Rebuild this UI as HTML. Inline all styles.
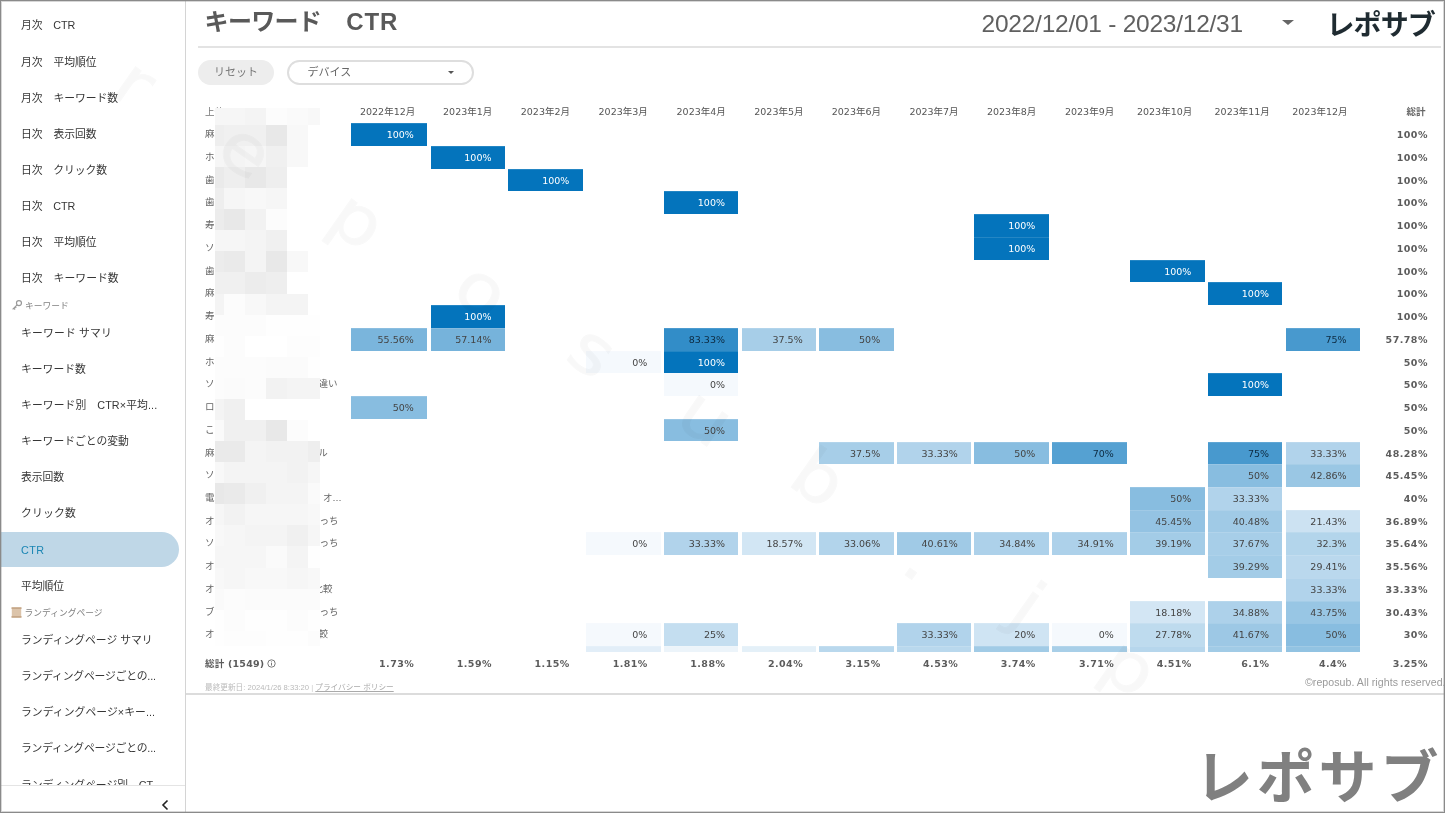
<!DOCTYPE html>
<html lang="ja"><head><meta charset="utf-8"><title>キーワード CTR</title>
<style>
*{box-sizing:border-box;margin:0;padding:0}
html,body{width:1445px;height:813px;overflow:hidden;background:#fff}
body{position:relative;font-family:"Liberation Sans","Noto Sans CJK JP",sans-serif;color:#333}
.frame{position:absolute;left:0;top:0;width:1445px;height:813px;border:1px solid #8a8a8a;box-shadow:inset 0 0 0 1px rgba(140,140,140,.35);z-index:50;pointer-events:none}
.sb{position:absolute;left:0;top:0;width:186px;height:813px;border-right:1px solid #d4d4d4;overflow:hidden}
.si{position:absolute;left:0;width:179px;height:36px;line-height:36px;padding-left:21px;font-size:10.8px;color:#363636;white-space:nowrap}
.si.act{color:#1b86b4}
.pill{position:absolute;left:0;top:531.6px;width:179px;height:35.8px;background:#bfd7e7;border-radius:0 18px 18px 0}
.sh{position:absolute;left:10.5px;font-size:8.75px;color:#808080;height:14px;line-height:14px;white-space:nowrap}
.sbb{position:absolute;left:0;top:784.8px;width:185px;height:29px;background:#fff;border-top:1px solid #e4e4e4}
.chev{position:absolute;left:160.8px;top:799.2px}
.main{position:absolute;left:186px;top:0;width:1259px;height:813px}
.title{position:absolute;left:204.6px;top:4px;font-size:24px;font-weight:bold;color:#595959;line-height:36px;white-space:nowrap}
.date{position:absolute;left:981.6px;top:6.2px;font-size:24.5px;color:#606060;line-height:36px;white-space:nowrap;font-family:"Liberation Sans",sans-serif;letter-spacing:-.25px}
.logo{position:absolute;left:1326.5px;top:6px;font-size:28px;font-weight:bold;color:#1f2b31;line-height:40px;white-space:nowrap;letter-spacing:-.9px}
.hr1{position:absolute;left:198px;top:46px;width:1243px;height:2px;background:#e3e3e3}
.hr2{position:absolute;left:186px;top:692.5px;width:1259px;height:2px;background:#dcdcdc}
.btn{position:absolute;left:198.4px;top:59.6px;width:75.2px;height:25.2px;border-radius:13px;background:#ededed;color:#777;font-size:11px;line-height:25px;text-align:center}
.dd{position:absolute;left:286.6px;top:59.6px;width:187.4px;height:25.2px;border-radius:13px;border:2px solid #dedede;color:#666;font-size:11px;line-height:21px;padding-left:19px}
.car{position:absolute;left:448px;top:71px;width:0;height:0;border-left:3.5px solid transparent;border-right:3.5px solid transparent;border-top:3.5px solid #555}
.car2{position:absolute;left:1281.6px;top:19.7px;width:0;height:0;border-left:6px solid transparent;border-right:6px solid transparent;border-top:5.6px solid #666}
.tb{font-family:"DejaVu Sans","Noto Sans CJK JP",sans-serif;font-size:9.5px;color:#555}
.mh{position:absolute;top:103.6px;width:80px;height:16px;line-height:16px;text-align:center;white-space:nowrap;color:#555}
.th0{position:absolute;left:205px;top:103.6px;height:16px;line-height:16px;color:#777}
.tht{position:absolute;left:1360px;top:103.6px;width:65.6px;text-align:right;height:16px;line-height:16px;font-weight:bold;color:#666}
.c{position:absolute;height:22.74px;line-height:24.94px;text-align:right;padding-right:13.4px;white-space:nowrap;box-shadow:inset 0 1px 0 rgba(255,255,255,.13)}
.rl{position:absolute;left:205px;height:22.74px;line-height:22.74px;color:#666;white-space:nowrap}
.rr{position:absolute;left:318px;height:22.74px;line-height:22.74px;color:#666;white-space:nowrap}
.tt{position:absolute;left:1360px;width:67.9px;letter-spacing:.45px;text-align:right;height:22.74px;line-height:24.54px;font-weight:bold;color:#5c5c5c;white-space:nowrap}
.tv{position:absolute;top:652.8px;height:22px;line-height:22px;text-align:right;padding-right:12.95px;letter-spacing:.45px;font-weight:bold;color:#5c5c5c}
.tl{position:absolute;left:205px;top:652.6px;height:22px;line-height:22px;font-weight:bold;color:#5c5c5c;white-space:nowrap;letter-spacing:.22px}
.ft{position:absolute;left:205px;top:682px;font-size:7.65px;color:#bababa;line-height:12px;white-space:nowrap}
.ft u{color:#aaa}
.cp{position:absolute;right:-.6px;top:675.3px;font-size:10.6px;letter-spacing:.05px;color:#9a9a9a;line-height:14px;white-space:nowrap}
.big{position:absolute;left:1194.8px;top:733.2px;font-size:58px;font-weight:bold;color:#808080;line-height:90px;white-space:nowrap;letter-spacing:3.9px}
.wm{position:absolute;width:80px;height:100px;line-height:84px;text-align:center;font-size:68px;color:#000;-webkit-text-stroke:1px #000;opacity:.023;transform:rotate(35deg) scaleX(1.13);font-family:"DejaVu Sans","Liberation Sans",sans-serif;z-index:40;pointer-events:none}
.mz i{position:absolute;display:block}
</style></head><body>
<div class="sb">
<div class="si" style="top:7.4px;letter-spacing:-0.06px">月次　CTR</div>
<div class="si" style="top:43.5px">月次　平均順位</div>
<div class="si" style="top:79.7px">月次　キーワード数</div>
<div class="si" style="top:115.8px">日次　表示回数</div>
<div class="si" style="top:152.0px;letter-spacing:-0.06px">日次　クリック数</div>
<div class="si" style="top:188.2px;letter-spacing:-0.06px">日次　CTR</div>
<div class="si" style="top:224.3px">日次　平均順位</div>
<div class="si" style="top:260.4px;letter-spacing:0.06px">日次　キーワード数</div>
<div class="si" style="top:315.0px;letter-spacing:0.18px">キーワード サマリ</div>
<div class="si" style="top:351.1px">キーワード数</div>
<div class="si" style="top:387.2px;letter-spacing:0.10px">キーワード別　CTR×平均...</div>
<div class="si" style="top:423.2px">キーワードごとの変動</div>
<div class="si" style="top:459.3px;letter-spacing:-0.07px">表示回数</div>
<div class="si" style="top:495.4px;letter-spacing:0.18px">クリック数</div>
<div class="pill"></div>
<div class="si act" style="top:531.5px;letter-spacing:0.40px">CTR</div>
<div class="si" style="top:567.6px;letter-spacing:-0.07px">平均順位</div>
<div class="si" style="top:621.9px">ランディングページ サマリ</div>
<div class="si" style="top:658.2px;letter-spacing:-0.18px">ランディングページごとの...</div>
<div class="si" style="top:694.3px;letter-spacing:0.07px">ランディングページ×キー...</div>
<div class="si" style="top:730.4px;letter-spacing:-0.18px">ランディングページごとの...</div>
<div class="si" style="top:766.5px">ランディングページ別　CT...</div>
<div class="sh" style="top:298.6px"><svg width="12" height="12" viewBox="0 0 11 11" style="vertical-align:-2.5px;margin-right:2.5px"><circle cx="7.3" cy="3.7" r="2.3" fill="none" stroke="#999" stroke-width="1.1"/><path d="M5.6 5.4 L1.5 9.5 M2.6 8.4 l1.2 1.2 M3.8 7.2 l1 1" stroke="#999" stroke-width="1.1" fill="none"/></svg>キーワード</div>
<div class="sh" style="top:606px"><svg width="11" height="11" viewBox="0 0 11 11" style="vertical-align:-2px;margin-right:3px"><rect x="0.8" y="0.5" width="9.4" height="10" fill="#dcc4aa"/><rect x="0.5" y="0.3" width="10" height="1.6" fill="#c4a585"/><rect x="0.5" y="9.1" width="10" height="1.6" fill="#c4a585"/></svg>ランディングページ</div>
<div class="sbb"></div>
<svg class="chev" width="8" height="12" viewBox="0 0 8 12"><path d="M6.5 1.5 L2 6 L6.5 10.5" fill="none" stroke="#222" stroke-width="1.6"/></svg>
</div>
<div class="title"><span style="letter-spacing:-.7px">キーワード</span>　<span style="letter-spacing:.9px;margin-left:1.2px">CTR</span></div>
<div class="date">2022/12/01 - 2023/12/31</div>
<div class="car2"></div>
<div class="logo">レポサブ</div>
<div class="hr1"></div>
<div class="btn">リセット</div>
<div class="dd">デバイス</div>
<div class="car"></div>
<div class="tb">
<div class="th0">上位</div>
<div class="mh" style="left:347.6px">2022年12月</div><div class="mh" style="left:427.7px">2023年1月</div><div class="mh" style="left:505.4px">2023年2月</div><div class="mh" style="left:583.2px">2023年3月</div><div class="mh" style="left:661.2px">2023年4月</div><div class="mh" style="left:738.9px">2023年5月</div><div class="mh" style="left:816.4px">2023年6月</div><div class="mh" style="left:894.0px">2023年7月</div><div class="mh" style="left:971.6px">2023年8月</div><div class="mh" style="left:1049.6px">2023年9月</div><div class="mh" style="left:1124.6px">2023年10月</div><div class="mh" style="left:1202.2px">2023年11月</div><div class="mh" style="left:1279.9px">2023年12月</div>
<div class="tht">総計</div>
<div class="rl" style="top:123.1px">麻</div>
<div class="c" style="left:351.2px;width:76.0px;top:123.1px;background:#0474bc;color:#fff">100%</div>
<div class="tt" style="top:123.1px">100%</div>
<div class="rl" style="top:145.8px">ホ</div>
<div class="c" style="left:430.5px;width:74.4px;top:145.8px;background:#0474bc;color:#fff">100%</div>
<div class="tt" style="top:145.8px">100%</div>
<div class="rl" style="top:168.6px">歯</div>
<div class="c" style="left:508.1px;width:74.6px;top:168.6px;background:#0474bc;color:#fff">100%</div>
<div class="tt" style="top:168.6px">100%</div>
<div class="rl" style="top:191.3px">歯</div>
<div class="c" style="left:664.0px;width:74.4px;top:191.3px;background:#0474bc;color:#fff">100%</div>
<div class="tt" style="top:191.3px">100%</div>
<div class="rl" style="top:214.1px">寿</div>
<div class="c" style="left:974.4px;width:74.4px;top:214.1px;background:#0474bc;color:#fff">100%</div>
<div class="tt" style="top:214.1px">100%</div>
<div class="rl" style="top:236.8px">ソ</div>
<div class="c" style="left:974.4px;width:74.4px;top:236.8px;background:#0474bc;color:#fff">100%</div>
<div class="tt" style="top:236.8px">100%</div>
<div class="rl" style="top:259.5px">歯</div>
<div class="c" style="left:1130.4px;width:74.4px;top:259.5px;background:#0474bc;color:#fff">100%</div>
<div class="tt" style="top:259.5px">100%</div>
<div class="rl" style="top:282.3px">麻</div>
<div class="c" style="left:1208.1px;width:74.3px;top:282.3px;background:#0474bc;color:#fff">100%</div>
<div class="tt" style="top:282.3px">100%</div>
<div class="rl" style="top:305.0px">寿</div>
<div class="c" style="left:430.5px;width:74.4px;top:305.0px;background:#0474bc;color:#fff">100%</div>
<div class="tt" style="top:305.0px">100%</div>
<div class="rl" style="top:327.8px">麻</div>
<div class="c" style="left:351.2px;width:76.0px;top:327.8px;background:#7ab5dc;color:#444">55.56%</div>
<div class="c" style="left:430.5px;width:74.4px;top:327.8px;background:#76b3db;color:#444">57.14%</div>
<div class="c" style="left:664.0px;width:74.4px;top:327.8px;background:#328dc8;color:#0d2a40">83.33%</div>
<div class="c" style="left:741.7px;width:74.4px;top:327.8px;background:#a7cee8;color:#444">37.5%</div>
<div class="c" style="left:819.2px;width:74.4px;top:327.8px;background:#88bde0;color:#444">50%</div>
<div class="c" style="left:1285.8px;width:74.2px;top:327.8px;background:#4899ce;color:#0d2a40">75%</div>
<div class="tt" style="top:327.8px">57.78%</div>
<div class="rl" style="top:350.5px">ホ</div>
<div class="c" style="left:585.6px;width:75.2px;top:350.5px;background:#f5f9fd;color:#444">0%</div>
<div class="c" style="left:664.0px;width:74.4px;top:350.5px;background:#0474bc;color:#fff">100%</div>
<div class="tt" style="top:350.5px">50%</div>
<div class="rl" style="top:373.2px">ソ</div>
<div class="rr" style="top:373.2px;left:318.4px">違い</div>
<div class="c" style="left:664.0px;width:74.4px;top:373.2px;background:#f5f9fd;color:#444">0%</div>
<div class="c" style="left:1208.1px;width:74.3px;top:373.2px;background:#0474bc;color:#fff">100%</div>
<div class="tt" style="top:373.2px">50%</div>
<div class="rl" style="top:396.0px">ロ</div>
<div class="c" style="left:351.2px;width:76.0px;top:396.0px;background:#88bde0;color:#444">50%</div>
<div class="tt" style="top:396.0px">50%</div>
<div class="rl" style="top:418.7px">こ</div>
<div class="c" style="left:664.0px;width:74.4px;top:418.7px;background:#88bde0;color:#444">50%</div>
<div class="tt" style="top:418.7px">50%</div>
<div class="rl" style="top:441.5px">麻</div>
<div class="rr" style="top:441.5px;left:318.2px">ル</div>
<div class="c" style="left:819.2px;width:74.4px;top:441.5px;background:#a7cee8;color:#444">37.5%</div>
<div class="c" style="left:896.8px;width:74.4px;top:441.5px;background:#b1d3eb;color:#444">33.33%</div>
<div class="c" style="left:974.4px;width:74.4px;top:441.5px;background:#88bde0;color:#444">50%</div>
<div class="c" style="left:1052.0px;width:75.2px;top:441.5px;background:#55a1d2;color:#0d2a40">70%</div>
<div class="c" style="left:1208.1px;width:74.3px;top:441.5px;background:#4899ce;color:#0d2a40">75%</div>
<div class="c" style="left:1285.8px;width:74.2px;top:441.5px;background:#b1d3eb;color:#444">33.33%</div>
<div class="tt" style="top:441.5px">48.28%</div>
<div class="rl" style="top:464.2px">ソ</div>
<div class="c" style="left:1208.1px;width:74.3px;top:464.2px;background:#88bde0;color:#444">50%</div>
<div class="c" style="left:1285.8px;width:74.2px;top:464.2px;background:#9ac7e4;color:#444">42.86%</div>
<div class="tt" style="top:464.2px">45.45%</div>
<div class="rl" style="top:486.9px">電</div>
<div class="rr" style="top:486.9px;left:323px">オ...</div>
<div class="c" style="left:1130.4px;width:74.4px;top:486.9px;background:#88bde0;color:#444">50%</div>
<div class="c" style="left:1208.1px;width:74.3px;top:486.9px;background:#b1d3eb;color:#444">33.33%</div>
<div class="tt" style="top:486.9px">40%</div>
<div class="rl" style="top:509.7px">オ</div>
<div class="rr" style="top:509.7px;left:319.4px">っち</div>
<div class="c" style="left:1130.4px;width:74.4px;top:509.7px;background:#94c3e3;color:#444">45.45%</div>
<div class="c" style="left:1208.1px;width:74.3px;top:509.7px;background:#a0cae6;color:#444">40.48%</div>
<div class="c" style="left:1285.8px;width:74.2px;top:509.7px;background:#cce2f2;color:#444">21.43%</div>
<div class="tt" style="top:509.7px">36.89%</div>
<div class="rl" style="top:532.4px">ソ</div>
<div class="rr" style="top:532.4px;left:319.4px">っち</div>
<div class="c" style="left:585.6px;width:75.2px;top:532.4px;background:#f5f9fd;color:#444">0%</div>
<div class="c" style="left:664.0px;width:74.4px;top:532.4px;background:#b1d3eb;color:#444">33.33%</div>
<div class="c" style="left:741.7px;width:74.4px;top:532.4px;background:#d2e6f4;color:#444">18.57%</div>
<div class="c" style="left:819.2px;width:74.4px;top:532.4px;background:#b2d4eb;color:#444">33.06%</div>
<div class="c" style="left:896.8px;width:74.4px;top:532.4px;background:#a0cae6;color:#444">40.61%</div>
<div class="c" style="left:974.4px;width:74.4px;top:532.4px;background:#add1ea;color:#444">34.84%</div>
<div class="c" style="left:1052.0px;width:75.2px;top:532.4px;background:#add1ea;color:#444">34.91%</div>
<div class="c" style="left:1130.4px;width:74.4px;top:532.4px;background:#a3cce7;color:#444">39.19%</div>
<div class="c" style="left:1208.1px;width:74.3px;top:532.4px;background:#a7cee8;color:#444">37.67%</div>
<div class="c" style="left:1285.8px;width:74.2px;top:532.4px;background:#b3d5eb;color:#444">32.3%</div>
<div class="tt" style="top:532.4px">35.64%</div>
<div class="rl" style="top:555.2px">オ</div>
<div class="c" style="left:1208.1px;width:74.3px;top:555.2px;background:#a3cce7;color:#444">39.29%</div>
<div class="c" style="left:1285.8px;width:74.2px;top:555.2px;background:#bad8ed;color:#444">29.41%</div>
<div class="tt" style="top:555.2px">35.56%</div>
<div class="rl" style="top:577.9px">オ</div>
<div class="rr" style="top:577.9px;left:313.6px">比較</div>
<div class="c" style="left:1285.8px;width:74.2px;top:577.9px;background:#b1d3eb;color:#444">33.33%</div>
<div class="tt" style="top:577.9px">33.33%</div>
<div class="rl" style="top:600.6px">ブ</div>
<div class="rr" style="top:600.6px;left:319.4px">っち</div>
<div class="c" style="left:1130.4px;width:74.4px;top:600.6px;background:#d3e6f4;color:#444">18.18%</div>
<div class="c" style="left:1208.1px;width:74.3px;top:600.6px;background:#add1ea;color:#444">34.88%</div>
<div class="c" style="left:1285.8px;width:74.2px;top:600.6px;background:#98c6e4;color:#444">43.75%</div>
<div class="tt" style="top:600.6px">30.43%</div>
<div class="rl" style="top:623.4px">オ</div>
<div class="rr" style="top:623.4px;left:318.6px">較</div>
<div class="c" style="left:585.6px;width:75.2px;top:623.4px;background:#f5f9fd;color:#444">0%</div>
<div class="c" style="left:664.0px;width:74.4px;top:623.4px;background:#c4def0;color:#444">25%</div>
<div class="c" style="left:896.8px;width:74.4px;top:623.4px;background:#b1d3eb;color:#444">33.33%</div>
<div class="c" style="left:974.4px;width:74.4px;top:623.4px;background:#cfe4f3;color:#444">20%</div>
<div class="c" style="left:1052.0px;width:75.2px;top:623.4px;background:#f5f9fd;color:#444">0%</div>
<div class="c" style="left:1130.4px;width:74.4px;top:623.4px;background:#bedbee;color:#444">27.78%</div>
<div class="c" style="left:1208.1px;width:74.3px;top:623.4px;background:#9dc8e5;color:#444">41.67%</div>
<div class="c" style="left:1285.8px;width:74.2px;top:623.4px;background:#88bde0;color:#444">50%</div>
<div class="tt" style="top:623.4px">30%</div>
<div class="c" style="left:585.6px;width:75.2px;top:646.1px;height:5.7px;background:#e2eef8"></div>
<div class="c" style="left:664.0px;width:74.4px;top:646.1px;height:5.7px;background:#ecf4fa"></div>
<div class="c" style="left:741.7px;width:74.4px;top:646.1px;height:5.7px;background:#e4f0f8"></div>
<div class="c" style="left:819.2px;width:74.4px;top:646.1px;height:5.7px;background:#b9d8ed"></div>
<div class="c" style="left:896.8px;width:74.4px;top:646.1px;height:5.7px;background:#b9d8ed"></div>
<div class="c" style="left:974.4px;width:74.4px;top:646.1px;height:5.7px;background:#a1cbe6"></div>
<div class="c" style="left:1052.0px;width:75.2px;top:646.1px;height:5.7px;background:#a8cfe8"></div>
<div class="c" style="left:1130.4px;width:74.4px;top:646.1px;height:5.7px;background:#b6d6ec"></div>
<div class="c" style="left:1208.1px;width:74.3px;top:646.1px;height:5.7px;background:#a1cbe6"></div>
<div class="c" style="left:1285.8px;width:74.2px;top:646.1px;height:5.7px;background:#92c3e2"></div>
<div class="tl">総計 (1549)<svg width="9" height="9" viewBox="0 0 9 9" style="vertical-align:-1.2px;margin-left:2.6px"><circle cx="4.5" cy="4.5" r="3.7" fill="none" stroke="#6a6a6a" stroke-width=".9"/><path d="M4.5 3.9V6.6M4.5 2.4v.9" stroke="#6a6a6a" stroke-width=".9" fill="none"/></svg></div>
<div class="tv" style="left:351.2px;width:76.0px">1.73%</div><div class="tv" style="left:430.5px;width:74.4px">1.59%</div><div class="tv" style="left:508.1px;width:74.6px">1.15%</div><div class="tv" style="left:585.6px;width:75.2px">1.81%</div><div class="tv" style="left:664.0px;width:74.4px">1.88%</div><div class="tv" style="left:741.7px;width:74.4px">2.04%</div><div class="tv" style="left:819.2px;width:74.4px">3.15%</div><div class="tv" style="left:896.8px;width:74.4px">4.53%</div><div class="tv" style="left:974.4px;width:74.4px">3.74%</div><div class="tv" style="left:1052.0px;width:75.2px">3.71%</div><div class="tv" style="left:1130.4px;width:74.4px">4.51%</div><div class="tv" style="left:1208.1px;width:74.3px">6.1%</div><div class="tv" style="left:1285.8px;width:74.2px">4.4%</div>
<div class="tv" style="left:1360px;width:67.9px;padding-right:0">3.25%</div>
</div>
<div class="mz"><i style="left:214.9px;top:107.9px;width:9.0px;height:17.3px;background:#f6f6f6"></i><i style="left:223.6px;top:107.9px;width:21.9px;height:17.3px;background:#f6f6f6"></i><i style="left:245.2px;top:107.9px;width:21.5px;height:17.3px;background:#f4f4f4"></i><i style="left:266.4px;top:107.9px;width:21.2px;height:17.3px;background:#fcfcfc"></i><i style="left:287.3px;top:107.9px;width:21.1px;height:17.3px;background:#fafafa"></i><i style="left:308.1px;top:107.9px;width:11.7px;height:17.3px;background:#f8f8f8"></i><i style="left:214.9px;top:124.9px;width:9.0px;height:21.3px;background:#eeeeee"></i><i style="left:223.6px;top:124.9px;width:21.9px;height:21.3px;background:#f0f0f0"></i><i style="left:245.2px;top:124.9px;width:21.5px;height:21.3px;background:#f0f0f0"></i><i style="left:266.4px;top:124.9px;width:21.2px;height:21.3px;background:#e8e8e8"></i><i style="left:287.3px;top:124.9px;width:21.1px;height:21.3px;background:#f8f8f8"></i><i style="left:308.1px;top:124.9px;width:11.7px;height:21.3px;background:#ffffff"></i><i style="left:214.9px;top:145.9px;width:9.0px;height:21.4px;background:#f6f6f6"></i><i style="left:223.6px;top:145.9px;width:21.9px;height:21.4px;background:#f4f4f4"></i><i style="left:245.2px;top:145.9px;width:21.5px;height:21.4px;background:#f6f6f6"></i><i style="left:266.4px;top:145.9px;width:21.2px;height:21.4px;background:#f0f0f0"></i><i style="left:287.3px;top:145.9px;width:21.1px;height:21.4px;background:#f8f8f8"></i><i style="left:308.1px;top:145.9px;width:11.7px;height:21.4px;background:#ffffff"></i><i style="left:214.9px;top:167.0px;width:9.0px;height:21.3px;background:#eaeaea"></i><i style="left:223.6px;top:167.0px;width:21.9px;height:21.3px;background:#eeeeee"></i><i style="left:245.2px;top:167.0px;width:21.5px;height:21.3px;background:#e8e8e8"></i><i style="left:266.4px;top:167.0px;width:21.2px;height:21.3px;background:#eeeeee"></i><i style="left:287.3px;top:167.0px;width:21.1px;height:21.3px;background:#ffffff"></i><i style="left:308.1px;top:167.0px;width:11.7px;height:21.3px;background:#ffffff"></i><i style="left:214.9px;top:188.0px;width:9.0px;height:21.3px;background:#eeeeee"></i><i style="left:223.6px;top:188.0px;width:21.9px;height:21.3px;background:#f6f6f6"></i><i style="left:245.2px;top:188.0px;width:21.5px;height:21.3px;background:#f8f8f8"></i><i style="left:266.4px;top:188.0px;width:21.2px;height:21.3px;background:#f6f6f6"></i><i style="left:287.3px;top:188.0px;width:21.1px;height:21.3px;background:#ffffff"></i><i style="left:308.1px;top:188.0px;width:11.7px;height:21.3px;background:#ffffff"></i><i style="left:214.9px;top:209.0px;width:9.0px;height:21.5px;background:#ececec"></i><i style="left:223.6px;top:209.0px;width:21.9px;height:21.5px;background:#e8e8e8"></i><i style="left:245.2px;top:209.0px;width:21.5px;height:21.5px;background:#f2f2f2"></i><i style="left:266.4px;top:209.0px;width:21.2px;height:21.5px;background:#fcfcfc"></i><i style="left:287.3px;top:209.0px;width:21.1px;height:21.5px;background:#ffffff"></i><i style="left:308.1px;top:209.0px;width:11.7px;height:21.5px;background:#ffffff"></i><i style="left:214.9px;top:230.2px;width:9.0px;height:21.5px;background:#f6f6f6"></i><i style="left:223.6px;top:230.2px;width:21.9px;height:21.5px;background:#f6f6f6"></i><i style="left:245.2px;top:230.2px;width:21.5px;height:21.5px;background:#f4f4f4"></i><i style="left:266.4px;top:230.2px;width:21.2px;height:21.5px;background:#f0f0f0"></i><i style="left:287.3px;top:230.2px;width:21.1px;height:21.5px;background:#ffffff"></i><i style="left:308.1px;top:230.2px;width:11.7px;height:21.5px;background:#ffffff"></i><i style="left:214.9px;top:251.4px;width:9.0px;height:21.3px;background:#ececec"></i><i style="left:223.6px;top:251.4px;width:21.9px;height:21.3px;background:#eaeaea"></i><i style="left:245.2px;top:251.4px;width:21.5px;height:21.3px;background:#f4f4f4"></i><i style="left:266.4px;top:251.4px;width:21.2px;height:21.3px;background:#e8e8e8"></i><i style="left:287.3px;top:251.4px;width:21.1px;height:21.3px;background:#f8f8f8"></i><i style="left:308.1px;top:251.4px;width:11.7px;height:21.3px;background:#ffffff"></i><i style="left:214.9px;top:272.4px;width:9.0px;height:21.5px;background:#f0f0f0"></i><i style="left:223.6px;top:272.4px;width:21.9px;height:21.5px;background:#f0f0f0"></i><i style="left:245.2px;top:272.4px;width:21.5px;height:21.5px;background:#ececec"></i><i style="left:266.4px;top:272.4px;width:21.2px;height:21.5px;background:#eeeeee"></i><i style="left:287.3px;top:272.4px;width:21.1px;height:21.5px;background:#ffffff"></i><i style="left:308.1px;top:272.4px;width:11.7px;height:21.5px;background:#ffffff"></i><i style="left:214.9px;top:293.6px;width:9.0px;height:21.4px;background:#f4f4f4"></i><i style="left:223.6px;top:293.6px;width:21.9px;height:21.4px;background:#fcfcfc"></i><i style="left:245.2px;top:293.6px;width:21.5px;height:21.4px;background:#f8f8f8"></i><i style="left:266.4px;top:293.6px;width:21.2px;height:21.4px;background:#f4f4f4"></i><i style="left:287.3px;top:293.6px;width:21.1px;height:21.4px;background:#f4f4f4"></i><i style="left:308.1px;top:293.6px;width:11.7px;height:21.4px;background:#ffffff"></i><i style="left:214.9px;top:314.7px;width:9.0px;height:21.3px;background:#fcfcfc"></i><i style="left:223.6px;top:314.7px;width:21.9px;height:21.3px;background:#fcfcfc"></i><i style="left:245.2px;top:314.7px;width:21.5px;height:21.3px;background:#fcfcfc"></i><i style="left:266.4px;top:314.7px;width:21.2px;height:21.3px;background:#fefefe"></i><i style="left:287.3px;top:314.7px;width:21.1px;height:21.3px;background:#fefefe"></i><i style="left:308.1px;top:314.7px;width:11.7px;height:21.3px;background:#fefefe"></i><i style="left:214.9px;top:335.7px;width:9.0px;height:21.4px;background:#fefefe"></i><i style="left:223.6px;top:335.7px;width:21.9px;height:21.4px;background:#fcfcfc"></i><i style="left:245.2px;top:335.7px;width:21.5px;height:21.4px;background:#ffffff"></i><i style="left:266.4px;top:335.7px;width:21.2px;height:21.4px;background:#ffffff"></i><i style="left:287.3px;top:335.7px;width:21.1px;height:21.4px;background:#fdfdfd"></i><i style="left:308.1px;top:335.7px;width:11.7px;height:21.4px;background:#fdfdfd"></i><i style="left:214.9px;top:356.8px;width:9.0px;height:21.5px;background:#fcfcfc"></i><i style="left:223.6px;top:356.8px;width:21.9px;height:21.5px;background:#fcfcfc"></i><i style="left:245.2px;top:356.8px;width:21.5px;height:21.5px;background:#fcfcfc"></i><i style="left:266.4px;top:356.8px;width:21.2px;height:21.5px;background:#fbfbfb"></i><i style="left:287.3px;top:356.8px;width:21.1px;height:21.5px;background:#fbfbfb"></i><i style="left:308.1px;top:356.8px;width:11.7px;height:21.5px;background:#fefefe"></i><i style="left:214.9px;top:378.0px;width:9.0px;height:21.2px;background:#fcfcfc"></i><i style="left:223.6px;top:378.0px;width:21.9px;height:21.2px;background:#fbfbfb"></i><i style="left:245.2px;top:378.0px;width:21.5px;height:21.2px;background:#fcfcfc"></i><i style="left:266.4px;top:378.0px;width:21.2px;height:21.2px;background:#f2f2f2"></i><i style="left:287.3px;top:378.0px;width:21.1px;height:21.2px;background:#f4f4f4"></i><i style="left:308.1px;top:378.0px;width:11.7px;height:21.2px;background:#f4f4f4"></i><i style="left:214.9px;top:398.9px;width:9.0px;height:21.4px;background:#f4f4f4"></i><i style="left:223.6px;top:398.9px;width:21.9px;height:21.4px;background:#f0f0f0"></i><i style="left:245.2px;top:398.9px;width:21.5px;height:21.4px;background:#ffffff"></i><i style="left:266.4px;top:398.9px;width:21.2px;height:21.4px;background:#ffffff"></i><i style="left:287.3px;top:398.9px;width:21.1px;height:21.4px;background:#ffffff"></i><i style="left:308.1px;top:398.9px;width:11.7px;height:21.4px;background:#ffffff"></i><i style="left:214.9px;top:420.0px;width:9.0px;height:21.5px;background:#fafafa"></i><i style="left:223.6px;top:420.0px;width:21.9px;height:21.5px;background:#f0f0f0"></i><i style="left:245.2px;top:420.0px;width:21.5px;height:21.5px;background:#f0f0f0"></i><i style="left:266.4px;top:420.0px;width:21.2px;height:21.5px;background:#e8e8e8"></i><i style="left:287.3px;top:420.0px;width:21.1px;height:21.5px;background:#fcfcfc"></i><i style="left:308.1px;top:420.0px;width:11.7px;height:21.5px;background:#ffffff"></i><i style="left:214.9px;top:441.2px;width:9.0px;height:21.1px;background:#eaeaea"></i><i style="left:223.6px;top:441.2px;width:21.9px;height:21.1px;background:#eaeaea"></i><i style="left:245.2px;top:441.2px;width:21.5px;height:21.1px;background:#f4f4f4"></i><i style="left:266.4px;top:441.2px;width:21.2px;height:21.1px;background:#f2f2f2"></i><i style="left:287.3px;top:441.2px;width:21.1px;height:21.1px;background:#f2f2f2"></i><i style="left:308.1px;top:441.2px;width:11.7px;height:21.1px;background:#eeeeee"></i><i style="left:214.9px;top:462.0px;width:9.0px;height:21.5px;background:#f8f8f8"></i><i style="left:223.6px;top:462.0px;width:21.9px;height:21.5px;background:#f4f4f4"></i><i style="left:245.2px;top:462.0px;width:21.5px;height:21.5px;background:#f4f4f4"></i><i style="left:266.4px;top:462.0px;width:21.2px;height:21.5px;background:#f4f4f4"></i><i style="left:287.3px;top:462.0px;width:21.1px;height:21.5px;background:#f2f2f2"></i><i style="left:308.1px;top:462.0px;width:11.7px;height:21.5px;background:#f6f6f6"></i><i style="left:214.9px;top:483.2px;width:9.0px;height:21.3px;background:#e8e8e8"></i><i style="left:223.6px;top:483.2px;width:21.9px;height:21.3px;background:#eaeaea"></i><i style="left:245.2px;top:483.2px;width:21.5px;height:21.3px;background:#f0f0f0"></i><i style="left:266.4px;top:483.2px;width:21.2px;height:21.3px;background:#f4f4f4"></i><i style="left:287.3px;top:483.2px;width:21.1px;height:21.3px;background:#f4f4f4"></i><i style="left:308.1px;top:483.2px;width:11.7px;height:21.3px;background:#fafafa"></i><i style="left:214.9px;top:504.2px;width:9.0px;height:21.4px;background:#f6f6f6"></i><i style="left:223.6px;top:504.2px;width:21.9px;height:21.4px;background:#f2f2f2"></i><i style="left:245.2px;top:504.2px;width:21.5px;height:21.4px;background:#f6f6f6"></i><i style="left:266.4px;top:504.2px;width:21.2px;height:21.4px;background:#f6f6f6"></i><i style="left:287.3px;top:504.2px;width:21.1px;height:21.4px;background:#f6f6f6"></i><i style="left:308.1px;top:504.2px;width:11.7px;height:21.4px;background:#f8f8f8"></i><i style="left:214.9px;top:525.3px;width:9.0px;height:21.3px;background:#f8f8f8"></i><i style="left:223.6px;top:525.3px;width:21.9px;height:21.3px;background:#f6f6f6"></i><i style="left:245.2px;top:525.3px;width:21.5px;height:21.3px;background:#f4f4f4"></i><i style="left:266.4px;top:525.3px;width:21.2px;height:21.3px;background:#f4f4f4"></i><i style="left:287.3px;top:525.3px;width:21.1px;height:21.3px;background:#f0f0f0"></i><i style="left:308.1px;top:525.3px;width:11.7px;height:21.3px;background:#f6f6f6"></i><i style="left:214.9px;top:546.3px;width:9.0px;height:21.5px;background:#f6f6f6"></i><i style="left:223.6px;top:546.3px;width:21.9px;height:21.5px;background:#f6f6f6"></i><i style="left:245.2px;top:546.3px;width:21.5px;height:21.5px;background:#f6f6f6"></i><i style="left:266.4px;top:546.3px;width:21.2px;height:21.5px;background:#fafafa"></i><i style="left:287.3px;top:546.3px;width:21.1px;height:21.5px;background:#f4f4f4"></i><i style="left:308.1px;top:546.3px;width:11.7px;height:21.5px;background:#fefefe"></i><i style="left:214.9px;top:567.5px;width:9.0px;height:21.4px;background:#f8f8f8"></i><i style="left:223.6px;top:567.5px;width:21.9px;height:21.4px;background:#f6f6f6"></i><i style="left:245.2px;top:567.5px;width:21.5px;height:21.4px;background:#f8f8f8"></i><i style="left:266.4px;top:567.5px;width:21.2px;height:21.4px;background:#f8f8f8"></i><i style="left:287.3px;top:567.5px;width:21.1px;height:21.4px;background:#f6f6f6"></i><i style="left:308.1px;top:567.5px;width:11.7px;height:21.4px;background:#f8f8f8"></i><i style="left:214.9px;top:588.6px;width:9.0px;height:21.5px;background:#fafafa"></i><i style="left:223.6px;top:588.6px;width:21.9px;height:21.5px;background:#fcfcfc"></i><i style="left:245.2px;top:588.6px;width:21.5px;height:21.5px;background:#fbfbfb"></i><i style="left:266.4px;top:588.6px;width:21.2px;height:21.5px;background:#fbfbfb"></i><i style="left:287.3px;top:588.6px;width:21.1px;height:21.5px;background:#fbfbfb"></i><i style="left:308.1px;top:588.6px;width:11.7px;height:21.5px;background:#fbfbfb"></i><i style="left:214.9px;top:609.8px;width:9.0px;height:21.5px;background:#fefefe"></i><i style="left:223.6px;top:609.8px;width:21.9px;height:21.5px;background:#fcfcfc"></i><i style="left:245.2px;top:609.8px;width:21.5px;height:21.5px;background:#fefefe"></i><i style="left:266.4px;top:609.8px;width:21.2px;height:21.5px;background:#fefefe"></i><i style="left:287.3px;top:609.8px;width:21.1px;height:21.5px;background:#fcfcfc"></i><i style="left:308.1px;top:609.8px;width:11.7px;height:21.5px;background:#fefefe"></i><i style="left:214.9px;top:631.0px;width:9.0px;height:15.1px;background:#fefefe"></i><i style="left:223.6px;top:631.0px;width:21.9px;height:15.1px;background:#fdfdfd"></i><i style="left:245.2px;top:631.0px;width:21.5px;height:15.1px;background:#fdfdfd"></i><i style="left:266.4px;top:631.0px;width:21.2px;height:15.1px;background:#fefefe"></i><i style="left:287.3px;top:631.0px;width:21.1px;height:15.1px;background:#fefefe"></i><i style="left:308.1px;top:631.0px;width:11.7px;height:15.1px;background:#fcfcfc"></i></div>
<div class="ft">最終更新日: 2024/1/26 8:33:20 <span style="color:#ccc">|</span> <u>プライバシー ポリシー</u></div>
<div class="cp">©reposub. All rights reserved.</div>
<div class="hr2"></div>
<div class="big">レポサブ</div>
<div class="wmk"><div class="wm" style="left:90px;top:40px">r</div><div class="wm" style="left:201px;top:107px">e</div><div class="wm" style="left:313px;top:177px">p</div><div class="wm" style="left:437px;top:247px">o</div><div class="wm" style="left:548px;top:308px">s</div><div class="wm" style="left:661px;top:374px">u</div><div class="wm" style="left:774px;top:435px">b</div><div class="wm" style="left:877px;top:515px">.</div><div class="wm" style="left:983px;top:562px">j</div><div class="wm" style="left:1085px;top:624px">p</div></div>
<div class="frame"></div>
</body></html>
